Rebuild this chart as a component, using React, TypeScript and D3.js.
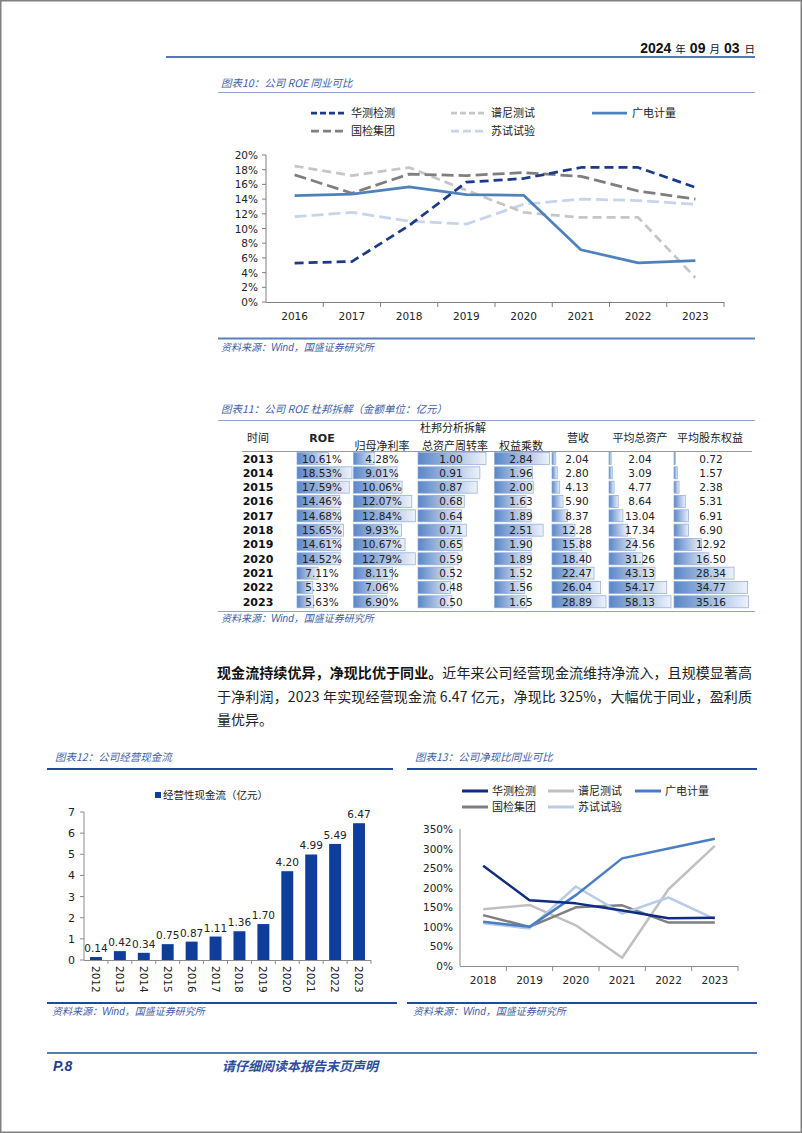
import React from 'react';
import * as d3 from 'd3';

// ---------- Data ----------
const roeYears = ['2016', '2017', '2018', '2019', '2020', '2021', '2022', '2023'];
const roeHuace = [5.3, 5.5, 10.4, 16.3, 16.8, 18.3, 18.3, 15.6];
const roePony = [18.5, 17.2, 18.3, 15.2, 12.2, 11.5, 11.5, 3.3];
const roeGrg = [14.46, 14.68, 15.65, 14.61, 14.52, 7.11, 5.33, 5.63];
const roeCtc = [17.3, 14.8, 17.4, 17.2, 17.6, 17.1, 15.1, 14.0];
const roeSuti = [11.6, 12.2, 11.0, 10.6, 13.3, 14.0, 13.8, 13.3];
const roeTicks = [0, 2, 4, 6, 8, 10, 12, 14, 16, 18, 20];

const dupontYears = ['2013', '2014', '2015', '2016', '2017', '2018', '2019', '2020', '2021', '2022', '2023'];
const dupontRoe = [10.61, 18.53, 17.59, 14.46, 14.68, 15.65, 14.61, 14.52, 7.11, 5.33, 5.63];
const dupontMargin = [4.28, 9.01, 10.06, 12.07, 12.84, 9.93, 10.67, 12.79, 8.11, 7.06, 6.9];
const dupontTurnover = [1.0, 0.91, 0.87, 0.68, 0.64, 0.71, 0.65, 0.59, 0.52, 0.48, 0.5];
const dupontLeverage = [2.84, 1.96, 2.0, 1.63, 1.89, 2.51, 1.9, 1.89, 1.52, 1.56, 1.65];
const dupontRevenue = [2.04, 2.8, 4.13, 5.9, 8.37, 12.28, 15.88, 18.4, 22.47, 26.04, 28.89];
const dupontAssets = [2.04, 3.09, 4.77, 8.64, 13.04, 17.34, 24.56, 31.26, 43.13, 54.17, 58.13];
const dupontEquity = [0.72, 1.57, 2.38, 5.31, 6.91, 6.9, 12.92, 16.5, 28.34, 34.77, 35.16];

const cfYears = ['2012', '2013', '2014', '2015', '2016', '2017', '2018', '2019', '2020', '2021', '2022', '2023'];
const cfValues = [0.14, 0.42, 0.34, 0.75, 0.87, 1.11, 1.36, 1.7, 4.2, 4.99, 5.49, 6.47];
const cfTicks = [0, 1, 2, 3, 4, 5, 6, 7];

const ncrYears = ['2018', '2019', '2020', '2021', '2022', '2023'];
const ncrHuace = [256, 168, 160, 142, 122, 123];
const ncrPony = [145, 156, 104, 21, 196, 307];
const ncrGrg = [113, 100, 181, 275, 300, 325];
const ncrCtc = [130, 100, 150, 155, 111, 111];
const ncrSuti = [109, 96, 203, 134, 175, 120];
const ncrTicks = [0, 50, 100, 150, 200, 250, 300, 350];

// ---------- Styles ----------
const CJK = '"Noto Sans CJK SC", "Noto Sans", sans-serif';
const NUM = '"DejaVu Sans", Verdana, sans-serif';
const TITLE_BLUE = '#3F5EA5';
const DARK_BLUE = '#1E4C9C';

function Title({ x, y, text }: { x: number; y: number; text: string }) {
  return (
    <text x={x} y={y} fontFamily={CJK} fontSize={10.5} fontStyle="italic" fill={TITLE_BLUE}>
      {text}
    </text>
  );
}

function Source({ x, y }: { x: number; y: number }) {
  return (
    <text x={x} y={y} fontFamily={CJK} fontSize={10} fontStyle="italic" fill={TITLE_BLUE}>
      资料来源：<tspan fontFamily='"Liberation Sans", Arial, sans-serif'>Wind</tspan>，国盛证券研究所
    </text>
  );
}

// ---------- Chart 10 ----------
function Chart10() {
  const x = d3.scaleBand<string>().domain(roeYears).range([266, 724]);
  const y = d3.scaleLinear().domain([0, 20]).range([302, 155]);
  const cx = (i: number) => (x(roeYears[i]) as number) + x.bandwidth() / 2;
  const line = d3.line<number>().x((_, i) => cx(i)).y((d) => y(d));
  const series = [
    { name: '华测检测', values: roeHuace, color: '#1B3A8A', dash: '9,5', ldash: '6,3', lx: 311, ly: 113 },
    { name: '谱尼测试', values: roePony, color: '#C6C6C6', dash: '9,5', ldash: '6,3', lx: 451, ly: 113 },
    { name: '广电计量', values: roeGrg, color: '#4F81BD', dash: '', ldash: '', lx: 592, ly: 113 },
    { name: '国检集团', values: roeCtc, color: '#7F7F7F', dash: '12,5', ldash: '8,4', lx: 311, ly: 131 },
    { name: '苏试试验', values: roeSuti, color: '#C6D5EB', dash: '12,5', ldash: '8,4', lx: 451, ly: 131 },
  ];
  const drawOrder = [4, 1, 3, 2, 0];
  return (
    <g>
      <Title x={221} y={87} text="图表10：公司 ROE 同业可比" />
      <line x1={218} x2={755} y1={92.5} y2={92.5} stroke="#8EA3C8" strokeWidth={1} />
      {series.map((s) => (
        <g key={s.name}>
          <line x1={s.lx} x2={s.lx + 35} y1={s.ly} y2={s.ly} stroke={s.color} strokeWidth={2.75} strokeDasharray={s.ldash} />
          <text x={s.lx + 40} y={s.ly + 4} fontFamily={CJK} fontSize={11} fill="#222">{s.name}</text>
        </g>
      ))}
      {/* axes */}
      <line x1={266} x2={266} y1={155} y2={302} stroke="#808080" />
      <line x1={266} x2={724} y1={302.5} y2={302.5} stroke="#808080" />
      {roeTicks.map((t) => (
        <g key={t}>
          <line x1={262} x2={266} y1={y(t)} y2={y(t)} stroke="#808080" />
          <text x={258} y={y(t) + 4} textAnchor="end" fontFamily={NUM} fontSize={10.5} fill="#222">{t}%</text>
        </g>
      ))}
      {roeYears.map((yr, i) => (
        <g key={yr}>
          <line x1={(x(yr) as number) + x.bandwidth()} x2={(x(yr) as number) + x.bandwidth()} y1={302} y2={307} stroke="#808080" />
          <text x={cx(i)} y={320} textAnchor="middle" fontFamily={NUM} fontSize={10.5} fill="#222">{yr}</text>
        </g>
      ))}
      {drawOrder.map((k) => {
        const s = series[k];
        return (
          <path key={s.name} d={line(s.values) as string} fill="none" stroke={s.color} strokeWidth={2.75} strokeDasharray={s.dash} strokeLinejoin="round" />
        );
      })}
      <line x1={218} x2={755} y1={338.5} y2={338.5} stroke="#5B7EBE" strokeWidth={2} />
      <Source x={221} y={351} />
    </g>
  );
}

// ---------- Table 11 ----------
function Table11() {
  const rowY = (i: number) => 458.5 + i * 14.33;
  const cols = [
    { key: 'roe', values: dupontRoe, start: 297, width: 55, tx: 322, fmt: (v: number) => v.toFixed(2) + '%' },
    { key: 'margin', values: dupontMargin, start: 353.5, width: 62, tx: 382, fmt: (v: number) => v.toFixed(2) + '%' },
    { key: 'turn', values: dupontTurnover, start: 418, width: 68, tx: 451, fmt: (v: number) => v.toFixed(2) },
    { key: 'lev', values: dupontLeverage, start: 494.5, width: 55, tx: 521, fmt: (v: number) => v.toFixed(2) },
    { key: 'rev', values: dupontRevenue, start: 552, width: 54, tx: 577, fmt: (v: number) => v.toFixed(2) },
    { key: 'assets', values: dupontAssets, start: 609, width: 62, tx: 640, fmt: (v: number) => v.toFixed(2) },
    { key: 'equity', values: dupontEquity, start: 674, width: 74.5, tx: 711, fmt: (v: number) => v.toFixed(2) },
  ];
  return (
    <g>
      <defs>
        <linearGradient id="dbar" x1="0" x2="1" y1="0" y2="0">
          <stop offset="0" stopColor="#5A86C8" />
          <stop offset="1" stopColor="#EEF2FA" />
        </linearGradient>
      </defs>
      <Title x={221} y={413} text="图表11：公司 ROE 杜邦拆解（金额单位：亿元）" />
      <line x1={218} x2={755} y1={420.5} y2={420.5} stroke="#8EA3C8" strokeWidth={1} />
      <g fontFamily={CJK} fontSize={11} fill="#222" textAnchor="middle">
        <text x={258} y={442}>时间</text>
        <text x={322} y={442} fontFamily={NUM} fontWeight="bold">ROE</text>
        <text x={453} y={432}>杜邦分析拆解</text>
        <text x={382} y={450}>归母净利率</text>
        <text x={455} y={450}>总资产周转率</text>
        <text x={521} y={450}>权益乘数</text>
        <text x={578} y={442}>营收</text>
        <text x={640} y={442}>平均总资产</text>
        <text x={710} y={442}>平均股东权益</text>
      </g>
      <line x1={242} x2={752} y1={451.5} y2={451.5} stroke="#7F7F7F" strokeWidth={0.8} />
      {dupontYears.map((yr, i) => (
        <text key={yr} x={258} y={rowY(i) + 4} textAnchor="middle" fontFamily={NUM} fontWeight="bold" fontSize={11} fill="#111">{yr}</text>
      ))}
      {cols.map((c) => {
        const s = d3.scaleLinear().domain([0, d3.max(c.values) as number]).range([0, c.width]);
        return (
          <g key={c.key}>
            {c.values.map((v, i) => (
              <g key={i}>
                <rect x={c.start} y={rowY(i) - 6} width={s(v)} height={12} fill="url(#dbar)" stroke="#8CAAD9" strokeWidth={0.7} />
                <text x={c.tx} y={rowY(i) + 4} textAnchor="middle" fontFamily={NUM} fontSize={10.5} fill="#222">{c.fmt(v)}</text>
              </g>
            ))}
          </g>
        );
      })}
      <line x1={218} x2={755} y1={611.5} y2={611.5} stroke="#8EA3C8" strokeWidth={1} />
      <Source x={221} y={622} />
    </g>
  );
}

// ---------- Paragraph ----------
function Paragraph() {
  return (
    <g fontFamily={CJK} fontSize={14} fill="#222">
      <text x={217} y={678} textLength={535} lengthAdjust="spacing">
        <tspan fontWeight="bold" fill="#111">现金流持续优异，净现比优于同业。</tspan>近年来公司经营现金流维持净流入，且规模显著高
      </text>
      <text x={217} y={702} textLength={535} lengthAdjust="spacing">
        于净利润，2023 年实现经营现金流 6.47 亿元，净现比 325%，大幅优于同业，盈利质
      </text>
      <text x={217} y={725}>量优异。</text>
    </g>
  );
}

// ---------- Chart 12 ----------
function Chart12() {
  const x = d3.scaleBand<string>().domain(cfYears).range([84, 371]).paddingInner(0.5).paddingOuter(0.25);
  const xb = d3.scaleBand<string>().domain(cfYears).range([84, 371]);
  const y = d3.scaleLinear().domain([0, 7]).range([960, 812]);
  const BAR = '#0F3D9B';
  return (
    <g>
      <Title x={55} y={761} text="图表12：公司经营现金流" />
      <line x1={47} x2={393} y1={769} y2={769} stroke={DARK_BLUE} strokeWidth={2} />
      <rect x={155} y={792} width={6} height={6} fill={BAR} />
      <text x={163} y={799} fontFamily={CJK} fontSize={10.5} fill="#222">经营性现金流（亿元）</text>
      <line x1={84} x2={84} y1={812} y2={960} stroke="#8C8C8C" />
      <line x1={84} x2={371} y1={960.5} y2={960.5} stroke="#8C8C8C" />
      {cfTicks.map((t) => (
        <g key={t}>
          <line x1={80} x2={84} y1={y(t)} y2={y(t)} stroke="#8C8C8C" />
          <text x={75} y={y(t) + 4} textAnchor="end" fontFamily={NUM} fontSize={11} fill="#222">{t}</text>
        </g>
      ))}
      {cfYears.map((yr, i) => {
        const bx = x(yr) as number;
        const bw = x.bandwidth();
        const cx = (xb(yr) as number) + xb.bandwidth() / 2;
        return (
          <g key={yr}>
            <line x1={(xb(yr) as number) + xb.bandwidth()} x2={(xb(yr) as number) + xb.bandwidth()} y1={960} y2={964} stroke="#8C8C8C" />
            <rect x={bx} y={y(cfValues[i])} width={bw} height={960 - y(cfValues[i])} fill={BAR} />
            <text x={cx} y={y(cfValues[i]) - 5} textAnchor="middle" fontFamily={NUM} fontSize={10.5} fill="#222">{cfValues[i].toFixed(2)}</text>
            <text transform={`translate(${cx - 4},966) rotate(90)`} fontFamily={NUM} fontSize={10.5} fill="#222">{yr}</text>
          </g>
        );
      })}
      <line x1={47} x2={397} y1={1003} y2={1003} stroke={DARK_BLUE} strokeWidth={2} />
      <Source x={52} y={1015} />
    </g>
  );
}

// ---------- Chart 13 ----------
function Chart13() {
  const x = d3.scaleBand<string>().domain(ncrYears).range([460, 738]);
  const y = d3.scaleLinear().domain([0, 350]).range([966, 829]);
  const cx = (i: number) => (x(ncrYears[i]) as number) + x.bandwidth() / 2;
  const line = d3.line<number>().x((_, i) => cx(i)).y((d) => y(d));
  const series = [
    { name: '华测检测', values: ncrHuace, color: '#0E2D82', lx: 462, ly: 791 },
    { name: '谱尼测试', values: ncrPony, color: '#C0C0C0', lx: 548, ly: 791 },
    { name: '广电计量', values: ncrGrg, color: '#4A7EC4', lx: 635, ly: 791 },
    { name: '国检集团', values: ncrCtc, color: '#7F7F7F', lx: 462, ly: 807 },
    { name: '苏试试验', values: ncrSuti, color: '#B8CCE8', lx: 548, ly: 807 },
  ];
  return (
    <g>
      <Title x={415} y={761} text="图表13：公司净现比同业可比" />
      <line x1={407} x2={757} y1={769} y2={769} stroke={DARK_BLUE} strokeWidth={2} />
      {series.map((s) => (
        <g key={s.name}>
          <line x1={s.lx} x2={s.lx + 26} y1={s.ly} y2={s.ly} stroke={s.color} strokeWidth={3} />
          <text x={s.lx + 30} y={s.ly + 4} fontFamily={CJK} fontSize={11} fill="#222">{s.name}</text>
        </g>
      ))}
      <line x1={460} x2={460} y1={829} y2={966} stroke="#8C8C8C" />
      <line x1={460} x2={738} y1={966.5} y2={966.5} stroke="#8C8C8C" />
      {ncrTicks.map((t) => (
        <text key={t} x={453} y={y(t) + 4} textAnchor="end" fontFamily={NUM} fontSize={10.5} fill="#222">{t}%</text>
      ))}
      {ncrYears.map((yr, i) => (
        <g key={yr}>
          <line x1={(x(yr) as number) + x.bandwidth()} x2={(x(yr) as number) + x.bandwidth()} y1={966} y2={971} stroke="#8C8C8C" />
          <text x={cx(i)} y={984} textAnchor="middle" fontFamily={NUM} fontSize={10.5} fill="#222">{yr}</text>
        </g>
      ))}
      {[1, 3, 4, 2, 0].map((k) => (
        <path key={k} d={line(series[k].values) as string} fill="none" stroke={series[k].color} strokeWidth={2.5} strokeLinejoin="round" />
      ))}
      <line x1={407} x2={757} y1={1003} y2={1003} stroke={DARK_BLUE} strokeWidth={2} />
      <Source x={413} y={1015} />
    </g>
  );
}

export default function App() {
  return (
    <svg
      width={802}
      height={1133}
      viewBox="0 0 802 1133"
      style={{ position: 'absolute', left: 0, top: 0, background: '#fff' }}
    >
      <rect x={0} y={0} width={802} height={1133} fill="#fff" />
      <rect x={0.75} y={0.75} width={800.5} height={1131.5} fill="none" stroke="#808080" strokeWidth={1.5} />
      {/* header */}
      <text x={755} y={53} textAnchor="end" fill="#111">
        <tspan fontFamily='"Liberation Sans", Arial, sans-serif' fontWeight="bold" fontSize={14}>2024</tspan>
        <tspan fontFamily={CJK} fontSize={10.5} dx={4}>年</tspan>
        <tspan fontFamily='"Liberation Sans", Arial, sans-serif' fontWeight="bold" fontSize={14} dx={4}>09</tspan>
        <tspan fontFamily={CJK} fontSize={10.5} dx={4}>月</tspan>
        <tspan fontFamily='"Liberation Sans", Arial, sans-serif' fontWeight="bold" fontSize={14} dx={4}>03</tspan>
        <tspan fontFamily={CJK} fontSize={10.5} dx={5}>日</tspan>
      </text>
      <line x1={166} x2={755} y1={57} y2={57} stroke={DARK_BLUE} strokeWidth={1.5} />
      <Chart10 />
      <Table11 />
      <Paragraph />
      <Chart12 />
      <Chart13 />
      {/* footer */}
      <line x1={47} x2={757} y1={1053} y2={1053} stroke={DARK_BLUE} strokeWidth={1.5} />
      <text x={53} y={1071} fontFamily='"Liberation Sans", Arial, sans-serif' fontWeight="bold" fontStyle="italic" fontSize={14} fill="#1F3F8F">P.8</text>
      <text x={222} y={1071} fontFamily={CJK} fontWeight="bold" fontStyle="italic" fontSize={13} fill="#2A4E9E">请仔细阅读本报告末页声明</text>
    </svg>
  );
}
